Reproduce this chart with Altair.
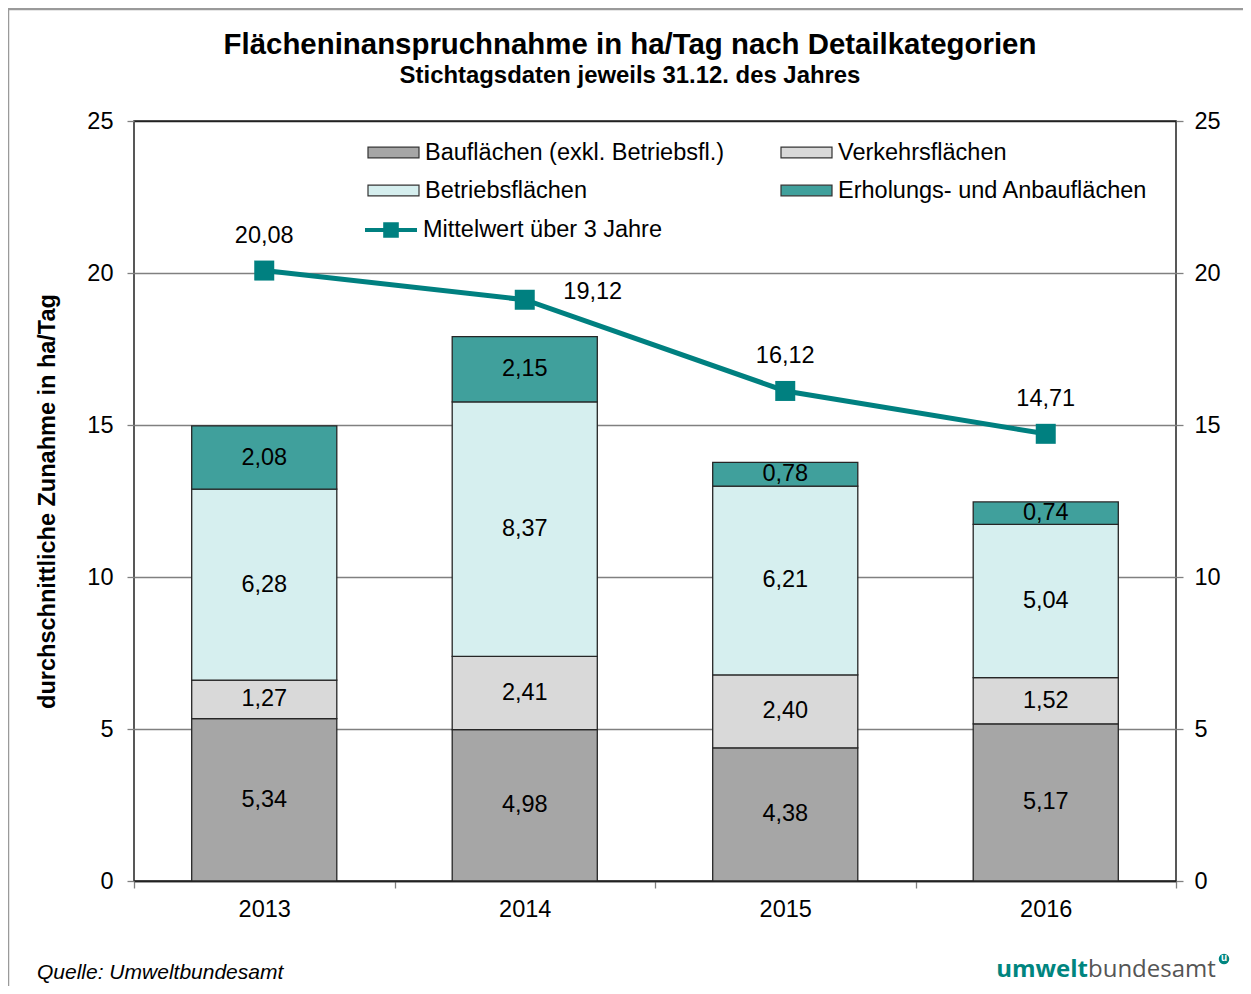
import altair as alt
import pandas as pd

years = ["2013", "2014", "2015", "2016"]
categories = [
    "Bauflächen (exkl. Betriebsfl.)",
    "Verkehrsflächen",
    "Betriebsflächen",
    "Erholungs- und Anbauflächen",
]
bau = [5.34, 4.98, 4.38, 5.17]
verkehr = [1.27, 2.41, 2.40, 1.52]
betrieb = [6.28, 8.37, 6.21, 5.04]
erholung = [2.08, 2.15, 0.78, 0.74]
mittelwert = [20.08, 19.12, 16.12, 14.71]
series_name = "Mittelwert über 3 Jahre"
colors = ["#a6a6a6", "#d9d9d9", "#d6efef", "#40a09c"]
line_color = "#008080"
y_ticks = [0, 5, 10, 15, 20, 25]

rows = []
for ci, (cat, vals) in enumerate(zip(categories, [bau, verkehr, betrieb, erholung])):
    for yr, v in zip(years, vals):
        rows.append({"Jahr": yr, "Kategorie": cat, "Wert": v, "ord": ci})
bars_df = pd.DataFrame(rows)
line_df = pd.DataFrame({"Jahr": years, "Mittelwert": mittelwert, "Serie": [series_name] * len(years)})

FONT = "Liberation Sans"
W, H = 1042, 760
FS = 23.5

xscale = alt.Scale(domain=years, paddingInner=0, paddingOuter=0)
yscale = alt.Scale(domain=[0, 25], nice=False, zero=True)

x_axis = alt.Axis(
    title=None, labelAngle=0, labelFontSize=FS, labelColor="black",
    tickBand="extent", tickSize=7, tickColor="#808080", tickWidth=1.3,
    labelPadding=9, domainColor="#222222", domainWidth=1.5, grid=False,
)
X = alt.X("Jahr:N", scale=xscale, axis=x_axis)
X0 = alt.X("Jahr:N", scale=xscale)

left_axis = alt.Axis(
    values=y_ticks, title="durchschnittliche Zunahme in ha/Tag",
    titleFontSize=FS, titleFontWeight="bold", titleColor="black", titlePadding=27,
    labelFontSize=FS, labelColor="black", tickSize=7, tickColor="#808080", tickWidth=1.3,
    labelPadding=14, domain=False, grid=True,
    gridColor=alt.condition("datum.value == 0 || datum.value == 25",
                            alt.value("#222222"), alt.value("#808080")),
    gridWidth=1.3,
)
right_axis = alt.Axis(
    orient="right", values=y_ticks, title=None,
    labelFontSize=FS, labelColor="black", tickSize=7, tickColor="#808080", tickWidth=1.3,
    labelPadding=11, domain=False, grid=False,
)

rect_path = "M-1,-0.21L1,-0.21L1,0.21L-1,0.21Z"
line_path = "M-1,-0.08L1,-0.08L1,0.08L-1,0.08Z M-0.3,-0.3L0.3,-0.3L0.3,0.3L-0.3,0.3Z"

base = alt.Chart(bars_df).transform_stack(
    stack="Wert", as_=["y0", "y1"], groupby=["Jahr"], sort=[alt.SortField("ord")]
).transform_calculate(
    mid="(datum.y0 + datum.y1) / 2",
    lab="replace(format(datum.Wert, '.2f'), '.', ',')",
)

bars = base.mark_bar(
    width=alt.RelativeBandSize(0.557), stroke="#262626", strokeWidth=1.3
).encode(
    x=X,
    y=alt.Y("y0:Q", scale=yscale, axis=left_axis),
    y2="y1:Q",
    fill=alt.Fill(
        "Kategorie:N", scale=alt.Scale(domain=categories, range=colors),
        sort=categories,
        legend=alt.Legend(
            orient="none", legendX=233, legendY=5, columns=2, direction="horizontal",
            columnPadding=53, rowPadding=-13, labelFontSize=FS, labelColor="black",
            labelLimit=500, symbolType=rect_path, symbolSize=2601,
            symbolStrokeColor="#333333", symbolStrokeWidth=1.2, labelOffset=5,
            title=None, padding=0,
        ),
    ),
)

seg_text = base.mark_text(fontSize=FS, baseline="middle", color="black").encode(
    x=X0, y=alt.Y("mid:Q", scale=yscale, axis=None), text="lab:N"
)

lbase = alt.Chart(line_df).transform_calculate(
    lab="replace(format(datum.Mittelwert, '.2f'), '.', ',')"
)
line = lbase.mark_line(color=line_color, strokeWidth=5).encode(
    x=X0, y=alt.Y("Mittelwert:Q", scale=yscale, axis=right_axis)
)
pts = lbase.mark_square(size=400, opacity=1, filled=True).encode(
    x=X0,
    y=alt.Y("Mittelwert:Q", scale=yscale, axis=None),
    fill=alt.Fill(
        "Serie:N", scale=alt.Scale(domain=[series_name], range=[line_color]),
        legend=alt.Legend(
            orient="none", legendX=231, legendY=83, labelFontSize=FS, labelColor="black",
            symbolType=line_path, symbolSize=2704, symbolStrokeWidth=0,
            labelOffset=6, title=None, padding=0, labelLimit=500,
        ),
    ),
)
lab_a = lbase.transform_filter("datum.Jahr != '2014'").mark_text(
    fontSize=FS, dy=-35, baseline="middle", color="black"
).encode(x=X0, y=alt.Y("Mittelwert:Q", scale=yscale, axis=None), text="lab:N")
lab_b = lbase.transform_filter("datum.Jahr == '2014'").mark_text(
    fontSize=FS, dx=68, dy=-8, baseline="middle", color="black"
).encode(x=X0, y=alt.Y("Mittelwert:Q", scale=yscale, axis=None), text="lab:N")

ann = alt.Chart(pd.DataFrame({"a": [0]}))
frame_left = ann.mark_rule(color="#9a9a9a", strokeWidth=2.5).encode(
    x=alt.value(-126), y=alt.value(-113), y2=alt.value(H + 105)
)
frame_top = ann.mark_rule(color="#9a9a9a", strokeWidth=2.5).encode(
    x=alt.value(-126), x2=alt.value(W + 67), y=alt.value(-112)
)
quelle = ann.mark_text(
    text="Quelle: Umweltbundesamt", fontSize=21, fontStyle="italic", align="left",
    baseline="alphabetic", color="black",
).encode(x=alt.value(-97), y=alt.value(858))
logo1 = ann.mark_text(
    text="umwelt", fontSize=24, fontWeight="bold", align="right", baseline="alphabetic",
    color="#00857f", font="Open Sans",
).encode(x=alt.value(1088 - 134), y=alt.value(856))
logo2 = ann.mark_text(
    text="bundesamt", fontSize=24, align="left", baseline="alphabetic",
    color="#555555", font="Open Sans",
).encode(x=alt.value(1088 - 134), y=alt.value(856))
logo_dot = ann.mark_point(filled=True, shape="circle", size=110, color="#00857f", opacity=1).encode(
    x=alt.value(1224 - 134), y=alt.value(838)
)
logo_u = ann.mark_text(
    text="u", fontSize=10, fontWeight="bold", color="white", baseline="middle"
).encode(x=alt.value(1224 - 134), y=alt.value(837))

chart = alt.layer(
    bars, seg_text, line, pts, lab_a, lab_b,
    frame_left, frame_top, quelle, logo1, logo2, logo_dot, logo_u,
).resolve_axis(y="independent").resolve_scale(fill="independent").resolve_legend(
    fill="independent"
).properties(
    width=W, height=H,
    autosize=alt.AutoSizeParams(type="none"),
    padding={"left": 126, "top": 113, "right": 67, "bottom": 105},
    title=alt.TitleParams(
        text="Flächeninanspruchnahme in ha/Tag nach Detailkategorien",
        subtitle="Stichtagsdaten jeweils 31.12. des Jahres",
        fontSize=29.4, fontWeight="bold", color="black",
        subtitleFontSize=23.9, subtitleFontWeight="bold", subtitleColor="black",
        subtitlePadding=3, anchor="middle", dx=-25, offset=0, dy=82,
    ),
).configure(font=FONT).configure_view(stroke="#222222", strokeWidth=1.5)

chart.save("out.html", embed_options={"renderer": "svg", "actions": False})
